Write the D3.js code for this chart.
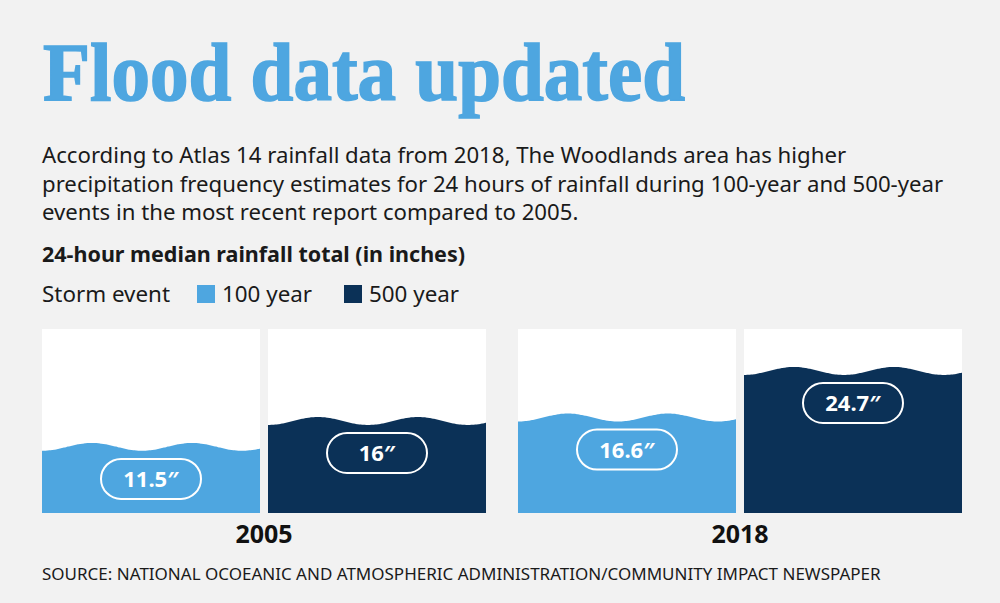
<!DOCTYPE html>
<html>
<head>
<meta charset="utf-8">
<script src="https://cdn.jsdelivr.net/npm/d3@7"></script>
<style>
  body { margin: 0; background: #f2f2f2; }
  svg { display: block; font-family: "Noto Sans", "Open Sans", sans-serif; }
</style>
</head>
<body>
<svg id="chart" width="1000" height="603"></svg>
<script>
const years = ["2005", "2018"]
const events = ["100 year", "500 year"]
const values100 = [11.5, 16.6]
const values500 = [16, 24.7]
const valueLabels100 = ["11.5\u2033", "16.6\u2033"]
const valueLabels500 = ["16\u2033", "24.7\u2033"]

const bodyLines = [
  "According to Atlas 14 rainfall data from 2018, The Woodlands area has higher",
  "precipitation frequency estimates for 24 hours of rainfall during 100-year and 500-year",
  "events in the most recent report compared to 2005."
]

const data = []
years.forEach((yr, i) => {
  data.push({ year: yr, event: events[0], value: values100[i], label: valueLabels100[i] })
  data.push({ year: yr, event: events[1], value: values500[i], label: valueLabels500[i] })
})

const svg = d3.select("#chart")

svg.append("rect").attr("width", 1000).attr("height", 603).attr("fill", "#f2f2f2")

// title
svg.append("text")
  .attr("x", 43).attr("y", 100)
  .attr("font-family", "'Liberation Serif', 'DejaVu Serif', serif")
  .attr("font-weight", "bold")
  .attr("font-size", 83)
  .attr("fill", "#4ea6e0")
  .attr("stroke", "#4ea6e0")
  .attr("stroke-width", 1.6)
  .attr("textLength", 642)
  .attr("lengthAdjust", "spacingAndGlyphs")
  .text("Flood data updated")

svg.selectAll(".body")
  .data(bodyLines)
  .enter().append("text")
  .attr("class", "body")
  .attr("x", 42)
  .attr("y", (d, i) => 163 + i * 28.5)
  .attr("font-size", 22.2)
  .attr("fill", "#1a1a1a")
  .text(d => d)

svg.append("text")
  .attr("x", 42).attr("y", 262)
  .attr("font-size", 21.5)
  .attr("font-weight", "bold")
  .attr("fill", "#1a1a1a")
  .text("24-hour median rainfall total (in inches)")

const color = d3.scaleOrdinal()
  .domain(events)
  .range(["#4ea6e0", "#0b3157"])

// legend
svg.append("text")
  .attr("x", 42).attr("y", 302)
  .attr("font-size", 22.4)
  .attr("fill", "#1a1a1a")
  .text("Storm event")

const legendX = [197, 344]
const legend = svg.selectAll(".legend")
  .data(events)
  .enter().append("g")
  .attr("class", "legend")
  .attr("transform", (d, i) => `translate(${legendX[i]},285)`)
legend.append("rect")
  .attr("width", 18).attr("height", 18)
  .attr("fill", d => color(d))
legend.append("text")
  .attr("x", 25).attr("y", 17)
  .attr("font-size", 22.4)
  .attr("fill", "#1a1a1a")
  .text(d => d)

// scales
const x0 = d3.scaleBand()
  .domain(years)
  .range([42, 962])
  .paddingInner(0.0672)

const x1 = d3.scaleBand()
  .domain(events)
  .range([0, x0.bandwidth()])
  .paddingInner(0.0354)

const y = d3.scaleLinear()
  .domain([0, 32])
  .range([513, 329])

const w = x1.bandwidth()
const wavePeriod = 100
const waveAmp = 4

function wavePath(v) {
  const top = y(v)
  const pts = d3.range(0, w + 1, 2).map(px => [px, top + waveAmp * Math.cos(2 * Math.PI * px / wavePeriod)])
  const line = d3.line().curve(d3.curveBasis)
  return line(pts) + `L${w},${y(0)}L0,${y(0)}Z`
}

const groups = svg.selectAll(".year")
  .data(years)
  .enter().append("g")
  .attr("class", "year")
  .attr("transform", d => `translate(${x0(d)},0)`)

const cells = groups.selectAll(".cell")
  .data(yr => data.filter(d => d.year === yr))
  .enter().append("g")
  .attr("class", "cell")
  .attr("transform", d => `translate(${x1(d.event)},0)`)

cells.append("rect")
  .attr("y", y.range()[1])
  .attr("width", w)
  .attr("height", y(0) - y.range()[1])
  .attr("fill", "#ffffff")

cells.append("path")
  .attr("d", d => wavePath(d.value))
  .attr("fill", d => color(d.event))

cells.append("rect")
  .attr("x", w / 2 - 50)
  .attr("y", d => y(d.value) + 12)
  .attr("width", 100)
  .attr("height", 40)
  .attr("rx", 20)
  .attr("fill", "none")
  .attr("stroke", "#ffffff")
  .attr("stroke-width", 2)

cells.append("text")
  .attr("x", w / 2)
  .attr("y", d => y(d.value) + 40)
  .attr("text-anchor", "middle")
  .attr("font-size", 22)
  .attr("font-weight", "bold")
  .attr("fill", "#ffffff")
  .text(d => d.label)

groups.append("text")
  .attr("x", x0.bandwidth() / 2)
  .attr("y", 543)
  .attr("text-anchor", "middle")
  .attr("font-size", 25)
  .attr("font-weight", "bold")
  .attr("fill", "#111111")
  .text(d => d)

svg.append("text")
  .attr("x", 42).attr("y", 580)
  .attr("font-size", 17)
  .attr("fill", "#1a1a1a")
  .text("SOURCE: NATIONAL OCOEANIC AND ATMOSPHERIC ADMINISTRATION/COMMUNITY IMPACT NEWSPAPER")
</script>
</body>
</html>
